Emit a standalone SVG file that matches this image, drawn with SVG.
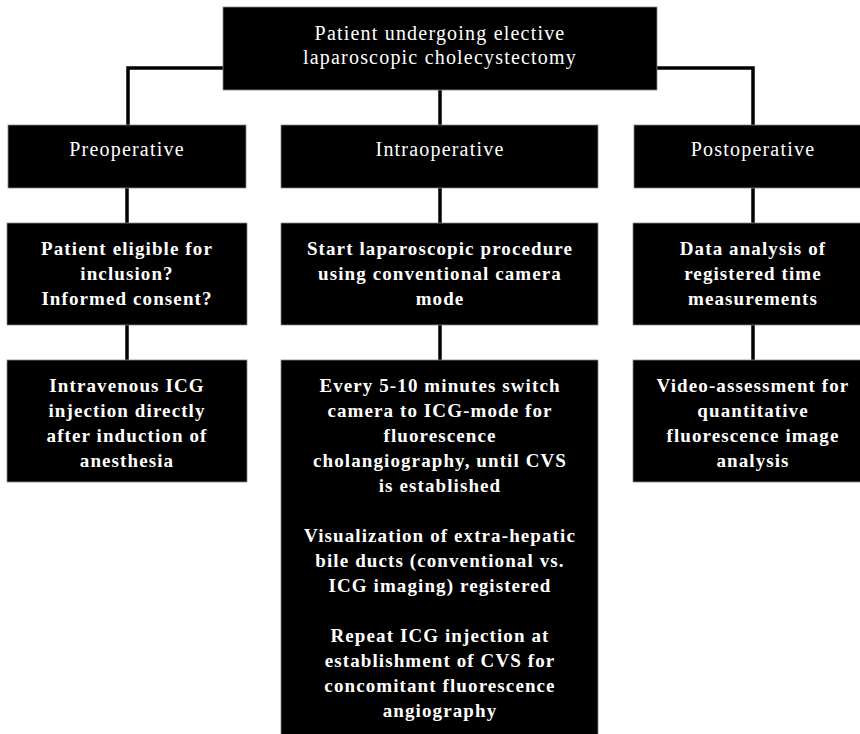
<svg xmlns="http://www.w3.org/2000/svg" width="860" height="734" viewBox="0 0 860 734">
<style>
.box{fill:#000;stroke:#888;stroke-width:0.8}
.t1{font-family:"Liberation Serif","Times New Roman",serif;font-size:20px;fill:#fff;text-anchor:middle;letter-spacing:1.2px}
.t2{font-family:"Liberation Serif","Times New Roman",serif;font-size:19px;font-weight:bold;fill:#fff;text-anchor:middle;letter-spacing:1.1px}
.c{stroke:#000;stroke-width:3.5;fill:none}
</style>
<rect width="860" height="734" fill="#fff"/>
<g id="connectors">
<polyline class="c" points="223,68 128,68 128,125"/>
<polyline class="c" points="657,68 753,68 753,125"/>
<line class="c" x1="440" y1="90" x2="440" y2="125"/>
<line class="c" x1="127" y1="188" x2="127" y2="223"/>
<line class="c" x1="127" y1="325" x2="127" y2="360"/>
<line class="c" x1="440" y1="188" x2="440" y2="223"/>
<line class="c" x1="440" y1="325" x2="440" y2="360"/>
<line class="c" x1="753" y1="188" x2="753" y2="223"/>
<line class="c" x1="753" y1="325" x2="753" y2="360"/>
</g>
<g id="top">
<rect class="box" x="223" y="7" width="434" height="83"/>
<text class="t1" x="440" y="40">Patient undergoing elective</text>
<text class="t1" x="440" y="64">laparoscopic cholecystectomy</text>
</g>
<g id="preoperative">
<rect class="box" x="8" y="125" width="238" height="63"/>
<text class="t1" x="127" y="156">Preoperative</text>
</g>
<g id="intraoperative">
<rect class="box" x="281" y="125" width="317" height="63"/>
<text class="t1" x="440" y="156">Intraoperative</text>
</g>
<g id="postoperative">
<rect class="box" x="634" y="125" width="240" height="63"/>
<text class="t1" x="753" y="156">Postoperative</text>
</g>
<g id="pre-eligible">
<rect class="box" x="7" y="223" width="240" height="102"/>
<text class="t2" x="127" y="255">Patient eligible for</text>
<text class="t2" x="127" y="280">inclusion?</text>
<text class="t2" x="127" y="305">Informed consent?</text>
</g>
<g id="intra-start">
<rect class="box" x="281" y="223" width="317" height="102"/>
<text class="t2" x="440" y="255">Start laparoscopic procedure</text>
<text class="t2" x="440" y="280">using conventional camera</text>
<text class="t2" x="440" y="305">mode</text>
</g>
<g id="post-data">
<rect class="box" x="633" y="223" width="241" height="102"/>
<text class="t2" x="753" y="255">Data analysis of</text>
<text class="t2" x="753" y="280">registered time</text>
<text class="t2" x="753" y="305">measurements</text>
</g>
<g id="pre-icg">
<rect class="box" x="7" y="360" width="240" height="122"/>
<text class="t2" x="127" y="392">Intravenous ICG</text>
<text class="t2" x="127" y="417">injection directly</text>
<text class="t2" x="127" y="442">after induction of</text>
<text class="t2" x="127" y="467">anesthesia</text>
</g>
<g id="intra-steps">
<rect class="box" x="281" y="360" width="317" height="380"/>
<text class="t2" x="440" y="392">Every 5-10 minutes switch</text>
<text class="t2" x="440" y="417">camera to ICG-mode for</text>
<text class="t2" x="440" y="442">fluorescence</text>
<text class="t2" x="440" y="467">cholangiography, until CVS</text>
<text class="t2" x="440" y="492">is established</text>
<text class="t2" x="440" y="542">Visualization of extra-hepatic</text>
<text class="t2" x="440" y="567">bile ducts (conventional vs.</text>
<text class="t2" x="440" y="592">ICG imaging) registered</text>
<text class="t2" x="440" y="642">Repeat ICG injection at</text>
<text class="t2" x="440" y="667">establishment of CVS for</text>
<text class="t2" x="440" y="692">concomitant fluorescence</text>
<text class="t2" x="440" y="717">angiography</text>
</g>
<g id="post-video">
<rect class="box" x="633" y="360" width="241" height="122"/>
<text class="t2" x="753" y="392">Video-assessment for</text>
<text class="t2" x="753" y="417">quantitative</text>
<text class="t2" x="753" y="442">fluorescence image</text>
<text class="t2" x="753" y="467">analysis</text>
</g>
</svg>
